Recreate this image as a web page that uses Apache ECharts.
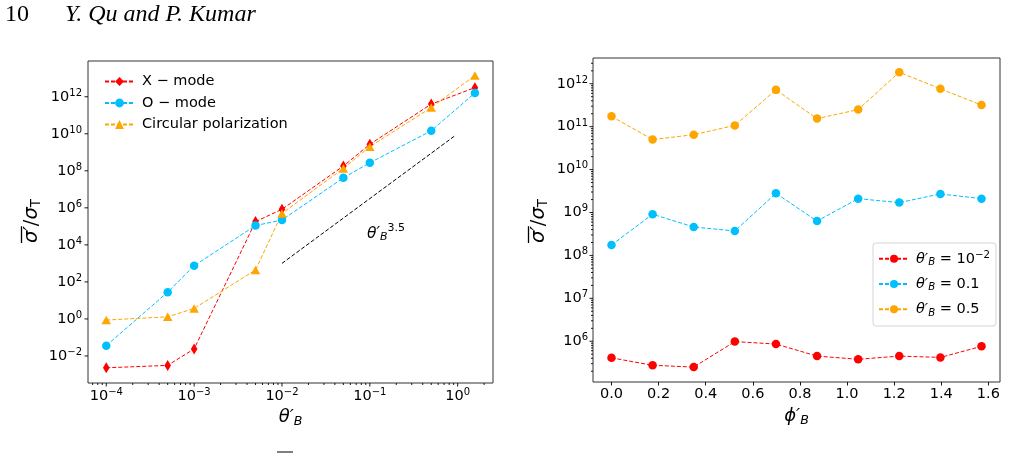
<!DOCTYPE html>
<html>
<head>
<meta charset="utf-8">
<script src="https://cdn.jsdelivr.net/npm/echarts@6/dist/echarts.min.js"></script>
<style>
  html, body { margin: 0; padding: 0; background: #fff; }
  #chart { width: 1017px; height: 455px; }
</style>
</head>
<body>
<div id="chart"></div>
<script>
// left panel: mean cross section vs theta_B'
const thetaB = [1e-4, 5e-4, 1e-3, 5e-3, 1e-2, 5e-2, 0.1, 0.5, 1.5708];
const xMode = [2.3e-3, 3.1e-3, 2.4e-2, 1.8e5, 8.3e5, 1.8e8, 2.7e9, 4.0e11, 3.1e12];
const oMode = [3.6e-2, 28, 7.5e2, 1.1e5, 2.2e5, 4.2e7, 2.7e8, 1.45e10, 1.6e12];
const circular = [0.87, 1.3, 3.7, 4.4e2, 5.0e5, 1.35e8, 2.0e9, 2.6e11, 1.4e13];
// theta^3.5 guide line end points
const trendX = [0.01, 0.92];
const trendY = [1e3, 7.5e9];

// right panel: mean cross section vs phi_B'
const phiB = [0, 0.1745, 0.3491, 0.5236, 0.6981, 0.8727, 1.0472, 1.2217, 1.3963, 1.5708];
const theta001 = [4.1e5, 2.75e5, 2.5e5, 9.8e5, 8.6e5, 4.5e5, 3.8e5, 4.5e5, 4.2e5, 7.6e5];
const theta01 = [1.75e8, 9.1e8, 4.6e8, 3.7e8, 2.8e9, 6.3e8, 2.1e9, 1.7e9, 2.7e9, 2.1e9];
const theta05 = [1.74e11, 5.0e10, 6.5e10, 1.07e11, 7.2e11, 1.54e11, 2.5e11, 1.86e12, 7.6e11, 3.2e11];

// tick labels
const leftXTicks = [1e-4, 1e-3, 1e-2, 1e-1, 1];
const leftYTicks = [1e-2, 1, 1e2, 1e4, 1e6, 1e8, 1e10, 1e12];
const rightXTicks = [0, 0.2, 0.4, 0.6, 0.8, 1.0, 1.2, 1.4, 1.6];
const rightYTicks = [1e6, 1e7, 1e8, 1e9, 1e10, 1e11, 1e12];

const leftNames = ['X \u2212 mode', 'O \u2212 mode', 'Circular polarization'];
const rightNames = ['t1', 't2', 't3'];
const rightLabels = {
  t1: '{th|θ′}{sub|B}{eq| = 10}{sup|\u22122}',
  t2: '{th|θ′}{sub|B}{eq| = 0.1}',
  t3: '{th|θ′}{sub|B}{eq| = 0.5}'
};

const RED = '#ff0000', BLUE = '#00bfff', ORANGE = '#ffa500';
const FONT = 'DejaVu Sans';

const LX = [Math.pow(10, -4.208), Math.pow(10, 0.402)];
const LY = [Math.pow(10, -3.46), Math.pow(10, 13.93)];
const RX = [-0.0785, 1.6493];
const RY = [Math.pow(10, 5.05), Math.pow(10, 12.6)];

function minorTicks(lo, hi, range) {
  const out = [];
  for (let e = lo; e <= hi; e++) {
    for (let k = 2; k <= 9; k++) {
      const v = +(k * Math.pow(10, e)).toPrecision(3);
      if (v > range[0] && v < range[1]) out.push(v);
    }
  }
  return out;
}

function powLabel(v) {
  const e = Math.round(Math.log10(v));
  return '{b|10}{s|' + String(e).replace('-', '\u2212') + '}';
}

const tickRich = {
  b: { fontSize: 14.5, fontFamily: FONT, color: '#000' },
  s: { fontSize: 10, fontFamily: FONT, color: '#000', padding: [0, 0, 7.5, 0] }
};

function nameRich(size, subSize, drop) {
  return {
    th: { fontSize: size, fontFamily: FONT, fontStyle: 'italic', color: '#000' },
    sub: { fontSize: subSize, fontFamily: FONT, fontStyle: 'italic', color: '#000', padding: [drop, 0, 0, 0] },
    eq: { fontSize: size, fontFamily: FONT, color: '#000' },
    sup: { fontSize: subSize, fontFamily: FONT, color: '#000', padding: [0, 0, drop, 0] }
  };
}

function measure(text, font) {
  const ctx = document.createElement('canvas').getContext('2d');
  ctx.font = font;
  return ctx.measureText(text).width;
}

// rotated y label with overline on sigma'
function yLabel(cx, cy) {
  const fs = 19.5, fsSub = 13.5;
  const w1 = measure('σ′', 'italic ' + fs + 'px "DejaVu Sans"');
  const w2 = measure('/', fs + 'px "DejaVu Sans"');
  const w3 = measure('σ', 'italic ' + fs + 'px "DejaVu Sans"');
  const w4 = measure('T', fsSub + 'px "DejaVu Sans"');
  const total = w1 + w2 + w3 + w4;
  return {
    type: 'group', x: cx, y: cy, rotation: Math.PI / 2,
    children: [
      {
        type: 'text', x: -total / 2, y: 0,
        style: {
          text: '{a|σ′}{b|/}{a|σ}{c|T}',
          align: 'left', verticalAlign: 'middle',
          rich: {
            a: { fontSize: fs, fontFamily: FONT, fontStyle: 'italic', fill: '#000' },
            b: { fontSize: fs, fontFamily: FONT, fill: '#000' },
            c: { fontSize: fsSub, fontFamily: FONT, fill: '#000', padding: [9, 0, 0, 0] }
          }
        }
      },
      {
        type: 'line',
        shape: { x1: -total / 2, y1: -10.5, x2: -total / 2 + w1, y2: -10.5 },
        style: { stroke: '#000', lineWidth: 1.3 }
      }
    ]
  };
}

const pairs = (xs, ys) => xs.map((x, i) => [x, ys[i]]);

const tickStyle = { color: '#000', width: 0.9 };

function axisBase(extra) {
  return Object.assign({
    axisLine: { show: false },
    splitLine: { show: false },
    minorTick: { show: false }
  }, extra);
}

// short outward tick drawn at a data position on the grid edge
function tickSeries(xi, yi, data, vertical, len) {
  return {
    type: 'custom', xAxisIndex: xi, yAxisIndex: yi, silent: true, clip: false,
    data: data,
    renderItem: (params, api) => {
      const p = api.coord([api.value(0), api.value(1)]);
      const shape = vertical
        ? { x1: p[0], y1: p[1], x2: p[0], y2: p[1] + len }
        : { x1: p[0] - len, y1: p[1], x2: p[0], y2: p[1] };
      return { type: 'line', shape: shape, style: { stroke: '#000', lineWidth: 0.9 } };
    }
  };
}

const leftXMinor = minorTicks(-5, 0, LX);
const rightYMinor = minorTicks(5, 12, RY);

const chart = echarts.init(document.getElementById('chart'));

chart.setOption({
  animation: false,
  backgroundColor: '#fff',
  grid: [
    { left: 88, top: 61, width: 405, height: 322, show: true, borderColor: '#333', borderWidth: 1 },
    { left: 593, top: 58, width: 407, height: 324, show: true, borderColor: '#333', borderWidth: 1 }
  ],
  xAxis: [
    axisBase({
      type: 'log', gridIndex: 0, min: LX[0], max: LX[1], position: 'bottom',
      axisTick: { show: false },
      axisLabel: { customValues: leftXTicks, formatter: powLabel, rich: tickRich, margin: 4 },
      name: '{th|θ′}{sub|B}', nameLocation: 'middle', nameGap: 22,
      nameTextStyle: { rich: nameRich(18, 12.6, 9.5) }
    }),
    axisBase({
      type: 'value', gridIndex: 1, min: RX[0], max: RX[1], position: 'bottom',
      axisTick: { customValues: rightXTicks, length: 3.5, lineStyle: tickStyle },
      axisLabel: {
        customValues: rightXTicks, formatter: v => v.toFixed(1), margin: 5,
        fontSize: 14.5, fontFamily: FONT, color: '#000'
      },
      name: '{th|ϕ′}{sub|B}', nameLocation: 'middle', nameGap: 22,
      nameTextStyle: { rich: nameRich(18, 12.6, 9.5) }
    })
  ],
  yAxis: [
    axisBase({
      type: 'log', gridIndex: 0, min: LY[0], max: LY[1], position: 'left',
      axisTick: { show: false },
      axisLabel: { customValues: leftYTicks, formatter: powLabel, rich: tickRich, margin: 6 }
    }),
    axisBase({
      type: 'log', gridIndex: 1, min: RY[0], max: RY[1], position: 'left',
      axisTick: { show: false },
      axisLabel: { customValues: rightYTicks, formatter: powLabel, rich: tickRich, margin: 5 }
    })
  ],
  legend: [
    {
      data: leftNames, orient: 'vertical', left: 99, top: 69,
      itemWidth: 29, itemHeight: 11, itemGap: 6.5,
      textStyle: { fontFamily: FONT, fontSize: 14.5, color: '#000', padding: [0, 0, 0, 3] }
    },
    {
      data: rightNames, orient: 'vertical', left: 873, top: 243,
      itemWidth: 30, itemHeight: 10, itemGap: 9,
      padding: [7, 6, 8, 5],
      backgroundColor: 'rgba(255,255,255,0.8)', borderColor: '#d5d5d5', borderWidth: 1, borderRadius: 3,
      formatter: name => rightLabels[name],
      textStyle: { fontFamily: FONT, fontSize: 14.5, color: '#000', padding: [0, 0, 0, 2], rich: nameRich(14.5, 10.2, 7.5) }
    }
  ],
  series: [
    {
      name: leftNames[0], type: 'line', xAxisIndex: 0, yAxisIndex: 0,
      data: pairs(thetaB, xMode),
      symbol: 'path://M3,0L6,5L3,10L0,5Z', symbolKeepAspect: true, symbolSize: 11,
      itemStyle: { color: RED }, lineStyle: { color: RED, width: 1, type: [4, 2] }
    },
    {
      name: leftNames[1], type: 'line', xAxisIndex: 0, yAxisIndex: 0,
      data: pairs(thetaB, oMode),
      symbol: 'circle', symbolSize: 8.5,
      itemStyle: { color: BLUE }, lineStyle: { color: BLUE, width: 1, type: [4, 2] }
    },
    {
      name: leftNames[2], type: 'line', xAxisIndex: 0, yAxisIndex: 0,
      data: pairs(thetaB, circular),
      symbol: 'triangle', symbolSize: [9.5, 8.5],
      itemStyle: { color: ORANGE }, lineStyle: { color: ORANGE, width: 1, type: [4, 2] }
    },
    {
      name: 'trend', type: 'line', xAxisIndex: 0, yAxisIndex: 0,
      data: pairs(trendX, trendY), symbol: 'none', silent: true,
      lineStyle: { color: '#000', width: 1, type: [4, 2] }
    },
    {
      name: rightNames[0], type: 'line', xAxisIndex: 1, yAxisIndex: 1,
      data: pairs(phiB, theta001), symbol: 'circle', symbolSize: 8.5,
      itemStyle: { color: RED }, lineStyle: { color: RED, width: 1, type: [4, 2] }
    },
    {
      name: rightNames[1], type: 'line', xAxisIndex: 1, yAxisIndex: 1,
      data: pairs(phiB, theta01), symbol: 'circle', symbolSize: 8.5,
      itemStyle: { color: BLUE }, lineStyle: { color: BLUE, width: 1, type: [4, 2] }
    },
    {
      name: rightNames[2], type: 'line', xAxisIndex: 1, yAxisIndex: 1,
      data: pairs(phiB, theta05), symbol: 'circle', symbolSize: 8.5,
      itemStyle: { color: ORANGE }, lineStyle: { color: ORANGE, width: 1, type: [4, 2] }
    },
    tickSeries(0, 0, leftXTicks.map(v => [v, LY[0]]), true, 3.5),
    tickSeries(0, 0, leftXMinor.map(v => [v, LY[0]]), true, 2),
    tickSeries(0, 0, leftYTicks.map(v => [LX[0], v]), false, 3.5),
    tickSeries(1, 1, rightYTicks.map(v => [RX[0], v]), false, 3.5),
    tickSeries(1, 1, rightYMinor.map(v => [RX[0], v]), false, 2)
  ],
  graphic: [
    {
      type: 'text', left: 5, top: 3,
      style: { text: '10', font: '24px "Liberation Serif"', fill: '#000' }
    },
    {
      type: 'text', left: 65, top: 3,
      style: { text: 'Y. Qu and P. Kumar', font: 'italic 24px "Liberation Serif"', fill: '#000' }
    },
    {
      type: 'text', x: 367, y: 223,
      style: {
        text: '{th|θ′}{sub|B}{sup|3.5}',
        rich: {
          th: { fontSize: 15.5, fontFamily: FONT, fontStyle: 'italic', fill: '#000' },
          sub: { fontSize: 11, fontFamily: FONT, fontStyle: 'italic', fill: '#000', padding: [8, 0, 0, 0] },
          sup: { fontSize: 11, fontFamily: FONT, fill: '#000', padding: [0, 0, 10, 0] }
        }
      }
    },
    yLabel(32, 221),
    yLabel(539, 221),
    {
      type: 'line', shape: { x1: 277, y1: 452, x2: 293, y2: 452 },
      style: { stroke: '#000', lineWidth: 1 }
    }
  ]
});
</script>
</body>
</html>
